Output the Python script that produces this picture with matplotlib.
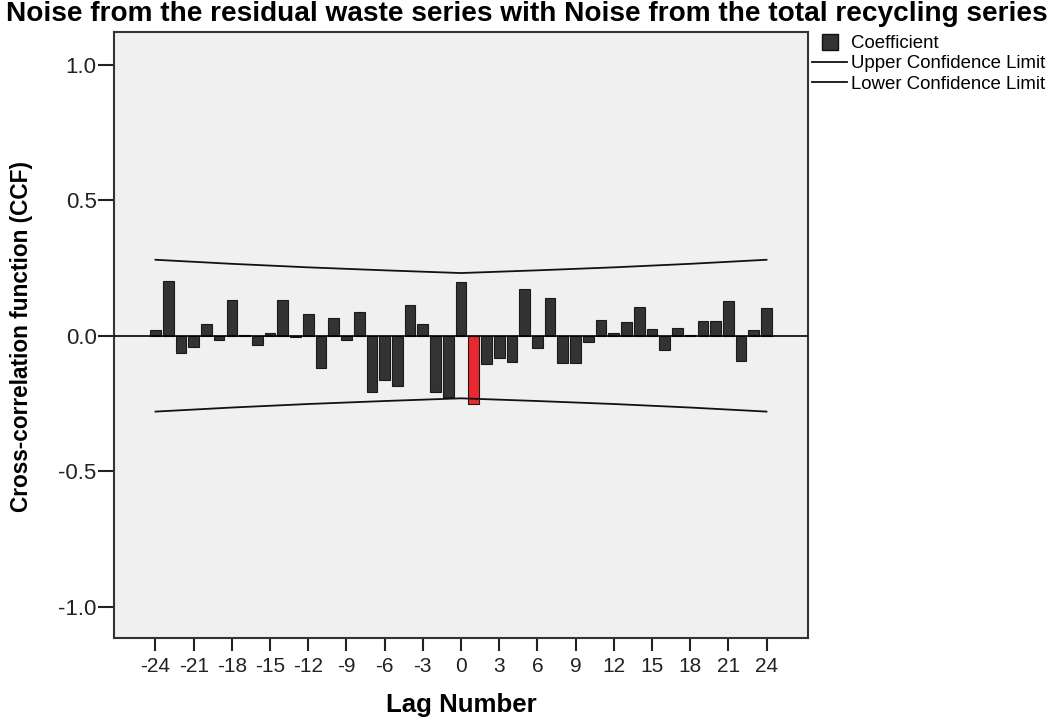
import matplotlib
matplotlib.use("Agg")
import matplotlib.pyplot as plt
from matplotlib.lines import Line2D

plt.rcParams["font.family"] = ["Liberation Sans", "DejaVu Sans"]
plt.rcParams["axes.unicode_minus"] = False

lags = list(range(-24, 25))
ccf = [0.021, 0.200, -0.063, -0.043, 0.043, -0.015, 0.132, 0.002, -0.033, 0.010,
       0.132, -0.005, 0.081, -0.120, 0.065, -0.017, 0.089, -0.208, -0.165, -0.185,
       0.114, 0.042, -0.207, -0.228, 0.199, -0.253, -0.103, -0.081, -0.098, 0.171,
       -0.047, 0.138, -0.101, -0.101, -0.025, 0.059, 0.009, 0.052, 0.107, 0.026,
       -0.052, 0.028, 0.003, 0.055, 0.055, 0.129, -0.092, 0.021, 0.102]
highlight_lag = 1

conf_lags = [-24, -18, -12, -6, 0, 6, 12, 18, 24]
upper = [0.280, 0.265, 0.252, 0.241, 0.231, 0.241, 0.252, 0.265, 0.280]
lower = [-0.280, -0.265, -0.252, -0.241, -0.231, -0.241, -0.252, -0.265, -0.280]

xticks = list(range(-24, 25, 3))
yticks = [-1.0, -0.5, 0.0, 0.5, 1.0]
ytick_labels = ["-1.0", "-0.5", "0.0", "0.5", "1.0"]

W, H = 1053, 722
fig = plt.figure(figsize=(W / 100, H / 100), dpi=100)
ax = fig.add_axes([114 / W, 1 - 638 / H, (808 - 114) / W, (638 - 32) / H])
ax.set_facecolor("#f0f0f0")

colors = ["#e8282e" if l == highlight_lag else "#333333" for l in lags]
ax.bar(lags, ccf, width=0.84, color=colors, edgecolor="#1a1a1a", linewidth=0.8, zorder=2)
ax.axhline(0, color="black", linewidth=1.2, zorder=3)
ax.plot(conf_lags, upper, color="#111111", linewidth=1.3, zorder=3)
ax.plot(conf_lags, lower, color="#111111", linewidth=1.3, zorder=3)

ax.set_xlim(-27.26, 27.26)
ax.set_ylim(-1.115, 1.12)
ax.set_xticks(xticks)
ax.set_xticklabels([str(t) for t in xticks])
ax.set_yticks(yticks)
ax.set_yticklabels(ytick_labels)
ax.tick_params(axis="x", length=9.5, width=1.5, pad=4, labelsize=15, colors="#222222")
ax.tick_params(axis="y", length=11.5, width=1.5, pad=1, labelsize=16, colors="#222222")
for s in ax.spines.values():
    s.set_color("#333333")
    s.set_linewidth(1.5)

fig.text(0.5, 1 - 14 / H,
         "Noise from the residual waste series with Noise from the total recycling series",
         ha="center", va="center", fontsize=20.2, fontweight="bold")
fig.text(22 / W, 1 - 336 / H, "Cross-correlation function (CCF)", rotation=90,
         ha="center", va="center", fontsize=16.3, fontweight="bold")
fig.text(461 / W, 1 - 705 / H, "Lag Number", ha="center", va="center",
         fontsize=18.6, fontweight="bold")

handles = [
    Line2D([], [], linestyle="none", marker="s", markersize=12,
           markerfacecolor="#333333", markeredgecolor="#111111"),
    Line2D([], [], color="#111111", linewidth=1.3),
    Line2D([], [], color="#111111", linewidth=1.3),
]
fig.legend(handles, ["Coefficient", "Upper Confidence Limit", "Lower Confidence Limit"],
           loc="upper left", bbox_to_anchor=(812 / W, 1 - 35 / H), frameon=False,
           fontsize=13.4, handlelength=1.9, handletextpad=0.2, labelspacing=0.18,
           borderpad=0, borderaxespad=0)

fig.savefig("out.png", dpi=100)
